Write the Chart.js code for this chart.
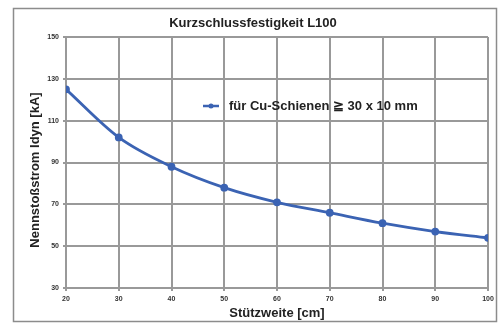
<!DOCTYPE html>
<html>
<head>
<meta charset="utf-8">
<script src="https://cdn.jsdelivr.net/npm/chart.js@4"></script>
<style>
  html, body { margin: 0; padding: 0; background: #fff; }
  #wrap { width: 499px; height: 323px; }
</style>
</head>
<body>
<div id="wrap"><canvas id="chart" width="499" height="323"></canvas></div>
<script>
// Daten
const stuetzweite = [20, 30, 40, 50, 60, 70, 80, 90, 100];
const nennstoss = [125, 102, 88, 78, 71, 66, 61, 57, 54];
const serieName = 'für Cu-Schienen \u2267 30 x 10 mm';
const titel = 'Kurzschlussfestigkeit L100';
const xTitel = 'Stützweite [cm]';
const yTitel = 'Nennstoßstrom Idyn [kA]';

const FONT = 'Liberation Sans, Arial, Helvetica, sans-serif';
const BLAU = '#3b63b3';
const GRAU = '#999999';

// Rahmen, Y-Achsentitel und Legende im Diagramm
const rahmenPlugin = {
    id: 'rahmen',
    beforeDraw(chart) {
        const ctx = chart.ctx;
        ctx.save();
        ctx.fillStyle = '#fff';
        ctx.fillRect(0, 0, chart.width, chart.height);
        ctx.strokeStyle = '#8c8c8c';
        ctx.lineWidth = 1.5;
        ctx.strokeRect(13.5, 8.5, 483, 313);
        ctx.restore();
    },
    afterDraw(chart) {
        const ctx = chart.ctx;
        ctx.save();
        // Y-Achsentitel
        ctx.fillStyle = '#222';
        ctx.font = 'bold 13px ' + FONT;
        ctx.textAlign = 'center';
        ctx.textBaseline = 'middle';
        ctx.translate(35, 170);
        ctx.rotate(-Math.PI / 2);
        ctx.fillText(yTitel, 0, 0);
        ctx.restore();

        // Legende
        const y = 106;
        ctx.save();
        ctx.strokeStyle = BLAU;
        ctx.lineWidth = 2.5;
        ctx.beginPath();
        ctx.moveTo(203, y);
        ctx.lineTo(219, y);
        ctx.stroke();
        ctx.fillStyle = BLAU;
        ctx.beginPath();
        ctx.arc(211, y, 2.5, 0, Math.PI * 2);
        ctx.fill();
        ctx.fillStyle = '#222';
        ctx.font = 'bold 13px ' + FONT;
        ctx.textBaseline = 'middle';
        ctx.fillText(chart.data.datasets[0].label, 229, y);
        ctx.restore();
    }
};

const ctx = document.getElementById('chart').getContext('2d');
new Chart(ctx, {
    type: 'line',
    data: {
        datasets: [{
            label: serieName,
            data: stuetzweite.map((x, i) => ({ x: x, y: nennstoss[i] })),
            borderColor: BLAU,
            backgroundColor: BLAU,
            borderWidth: 2.8,
            pointRadius: 2.5,
            pointHoverRadius: 2.5,
            cubicInterpolationMode: 'monotone'
        }]
    },
    options: {
        responsive: false,
        animation: false,
        layout: { padding: { left: 18, right: 11, top: 0, bottom: 2 } },
        plugins: {
            legend: { display: false },
            tooltip: { enabled: false },
            title: {
                display: true,
                text: titel,
                color: '#222',
                font: { family: FONT, size: 13, weight: 'bold' },
                padding: { top: 16, bottom: 5.5 }
            }
        },
        scales: {
            x: {
                type: 'linear',
                min: 20,
                max: 100,
                ticks: { stepSize: 10, color: '#333', font: { family: FONT, size: 7, weight: 'bold' }, padding: 4, maxRotation: 0 },
                grid: { color: GRAU, lineWidth: 2, tickLength: 3 },
                border: { color: GRAU, width: 2 },
                title: {
                    display: true,
                    text: xTitel,
                    color: '#222',
                    font: { family: FONT, size: 13, weight: 'bold' },
                    padding: { top: 0, bottom: 0 }
                },
                afterFit(scale) { scale.height = 33; }
            },
            y: {
                min: 30,
                max: 150,
                ticks: { stepSize: 20, color: '#333', font: { family: FONT, size: 7, weight: 'bold' }, padding: 4 },
                grid: { color: GRAU, lineWidth: 2, tickLength: 3 },
                border: { color: GRAU, width: 2 },
                title: { display: false },
                afterFit(scale) { scale.width = 48; }
            }
        }
    },
    plugins: [rahmenPlugin]
});
</script>
</body>
</html>
